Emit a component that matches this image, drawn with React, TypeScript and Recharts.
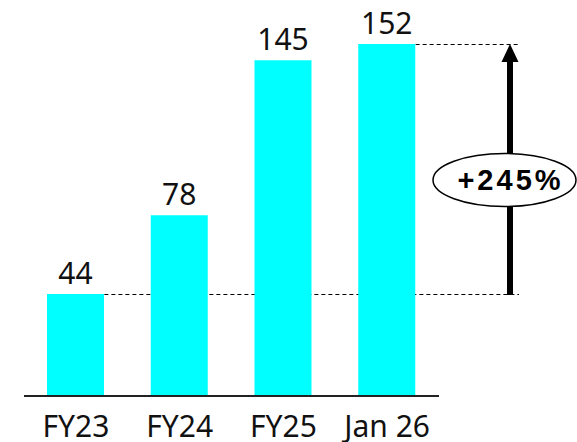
import React from 'react';
import { BarChart, Bar, XAxis, YAxis, LabelList, ReferenceLine, ReferenceArea } from 'recharts';

const categories = ['FY23', 'FY24', 'FY25', 'Jan 26'];
const values = [44, 78, 145, 152];
const startValue = 44;
const endValue = 152;
const growthLabel = '+245%';

const data = categories.map((cat, i) => ({ cat, value: values[i] }));

const W = 577;
const H = 442;
const MARGIN = { top: 44, right: 138, bottom: 0, left: 24 };
const BAR_SIZE = 57;
const ARROW_X = 510;
const LINE_END_X = 519;
const FONT = '"Noto Sans", "DejaVu Sans", sans-serif';
const BOLD_FONT = '"Liberation Sans", Arial, sans-serif';

const renderValueLabel = (props: any) => {
  const { x, y, width, value } = props;
  return (
    <text
      x={Number(x) + Number(width) / 2}
      y={Number(y) - 10.5}
      textAnchor="middle"
      fontSize={30}
      fontFamily={FONT}
      fill="#111"
    >
      {value}
    </text>
  );
};

const CategoryTick = (props: any) => {
  const { x, y, payload } = props;
  return (
    <text x={x} y={Number(y) + 41} textAnchor="middle" fontSize={30} fontFamily={FONT} fill="#111">
      {payload.value}
    </text>
  );
};

const makeDashShape = (barIndex: number) => (props: any) => {
  const { x1, x2, y1 } = props;
  const band = (Number(x2) - Number(x1)) / categories.length;
  const start = Number(x1) + band * (barIndex + 0.5) + BAR_SIZE / 2;
  const yy = Math.floor(Number(y1)) + 0.5;
  return (
    <line x1={start} x2={LINE_END_X} y1={yy} y2={yy} stroke="#000" strokeWidth={1} strokeDasharray="4 3" />
  );
};

const ArrowShape = (props: any) => {
  const { y, height } = props;
  const top = Number(y);
  const bottom = Number(y) + Number(height);
  const headH = 18;
  const headHalf = 8.5;
  const cy = 180;
  return (
    <g>
      <line x1={ARROW_X} x2={ARROW_X} y1={bottom + 1} y2={top + headH - 1} stroke="#000" strokeWidth={6} />
      <polygon
        points={`${ARROW_X},${top} ${ARROW_X - headHalf},${top + headH} ${ARROW_X + headHalf},${top + headH}`}
        fill="#000"
      />
      <ellipse cx={504.5} cy={cy} rx={71.5} ry={26.5} fill="#fff" stroke="#000" strokeWidth={1.5} />
      <text
        x={510.5}
        y={190}
        textAnchor="middle"
        fontSize={29}
        fontWeight="bold"
        fontFamily={BOLD_FONT}
        letterSpacing={3}
        fill="#000"
      >
        {growthLabel}
      </text>
    </g>
  );
};

export default function App() {
  return (
    <div style={{ position: 'absolute', left: 0, top: 0, width: W, height: H, background: '#fff' }}>
      <BarChart width={W} height={H} data={data} margin={MARGIN}>
        <XAxis
          dataKey="cat"
          height={46}
          tickLine={false}
          tickSize={0}
          tickMargin={0}
          axisLine={{ stroke: '#222', strokeWidth: 2 }}
          tick={<CategoryTick />}
          interval={0}
        />
        <YAxis hide domain={[0, endValue]} />
        <ReferenceLine y={startValue} shape={makeDashShape(0)} zIndex={-10} />
        <ReferenceLine y={endValue} shape={makeDashShape(categories.length - 1)} zIndex={-10} />
        <ReferenceArea y1={startValue} y2={endValue} shape={ArrowShape} zIndex={-10} />
        <Bar dataKey="value" fill="#00FFFF" barSize={BAR_SIZE} isAnimationActive={false}>
          <LabelList dataKey="value" content={renderValueLabel} />
        </Bar>
      </BarChart>
    </div>
  );
}
